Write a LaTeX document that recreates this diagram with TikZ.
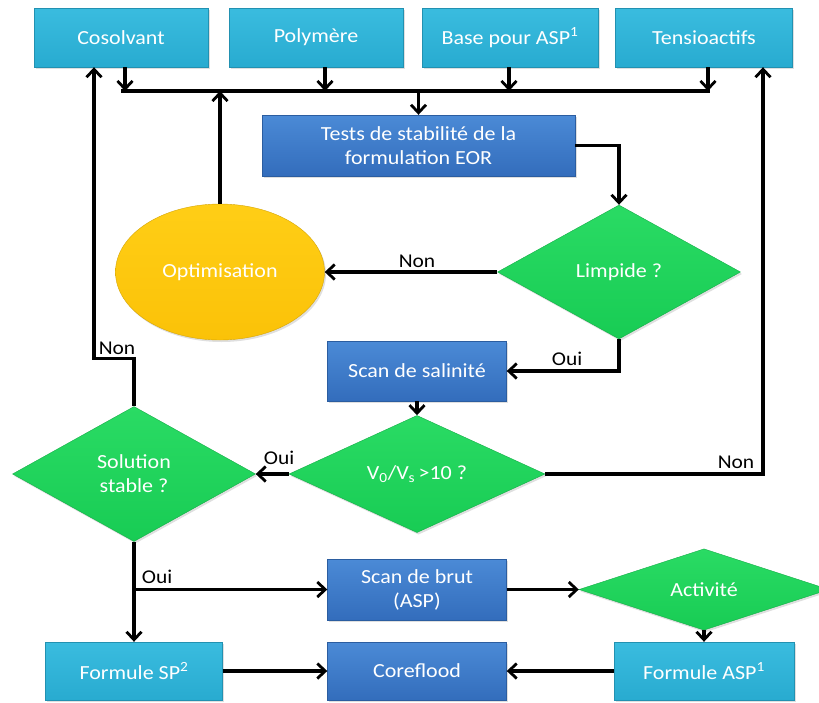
\documentclass[tikz,border=0pt]{standalone}
\usepackage{fontspec}
\setmainfont[FakeStretch=1.1]{Carlito}
\usetikzlibrary{shapes.geometric,arrows.meta,shadows}
\definecolor{cyanA}{HTML}{3ABCDF}
\definecolor{cyanB}{HTML}{28ABD0}
\definecolor{blueA}{HTML}{4B8AD6}
\definecolor{blueB}{HTML}{336DBC}
\definecolor{greenA}{HTML}{2ADB64}
\definecolor{greenB}{HTML}{18CC54}
\definecolor{yelA}{HTML}{FFCE16}
\definecolor{yelB}{HTML}{FBC208}
\tikzset{
  base/.style={inner sep=0pt, text=white, font=\fontsize{20}{24}\selectfont, align=center,
    drop shadow={opacity=0.25,shadow xshift=1.5pt,shadow yshift=-2pt}},
  cbox/.style={base, rectangle, top color=cyanA, bottom color=cyanB, draw=cyanB!85!black, line width=0.4pt},
  bbox/.style={base, rectangle, top color=blueA, bottom color=blueB, draw=blueB!85!black, line width=0.4pt},
  dia/.style={base, diamond, top color=greenA, bottom color=greenB, draw=greenB!85!black, line width=0.4pt},
  ell/.style={base, ellipse, top color=yelA, bottom color=yelB, draw=yelB!85!black, line width=0.4pt},
  conn/.style={line width=3.2pt, -{Straight Barb[length=8pt,width=15pt,line width=2.8pt]}},
  plain/.style={line width=3.2pt},
  lbl/.style={font=\fontsize{19.5}{23}\selectfont, text=black, inner sep=0pt},
}
\begin{document}
\begin{tikzpicture}[x=1pt,y=-1pt]
\useasboundingbox (0,0) rectangle (819,702);
% top row
\node[cbox, minimum width=174pt, minimum height=59pt] (cos) at (121,37.5) {Cosolvant};
\node[cbox, minimum width=174pt, minimum height=59pt] (pol) at (316,37.5) {Polymère};
\node[cbox, minimum width=176pt, minimum height=59pt] (bas) at (510,37.5) {Base pour ASP\textsuperscript{1}};
\node[cbox, minimum width=177pt, minimum height=59pt] (ten) at (704,37.5) {Tensioactifs};
% bus
\coordinate (busL) at (121,91);
\coordinate (busR) at (710,91);
\draw[plain] (busL) -- (busR);
\draw[conn] ([xshift=4pt]cos.south) -- ([xshift=4pt]cos.south |- busL);
\draw[conn] ([xshift=9pt]pol.south) -- ([xshift=9pt]pol.south |- busL);
\draw[conn] ([xshift=-1pt]bas.south) -- ([xshift=-1pt]bas.south |- busL);
\draw[conn] ([xshift=4pt]ten.south) -- ([xshift=4pt]ten.south |- busL);
% tests
\node[bbox, minimum width=313pt, minimum height=61pt] (tst) at (418.5,145.5) {Tests de stabilité de la\\formulation EOR};
\draw[conn] (tst.north |- busL) -- (tst.north);
% limpide / optimisation
\node[dia, minimum width=243pt, minimum height=134pt] (lim) at (619,272) {Limpide ?};
\node[ell, minimum width=209pt, minimum height=136pt] (opt) at (220,272) {Optimisation};
\draw[conn] (tst.east) -| (lim.north);
\draw[conn] (lim.west) -- (opt.east);
\draw[conn] (opt.north) -- (opt.north |- busL);
\node[lbl] (l1) at (417,261) {Non};
% scan salinite
\node[bbox, minimum width=179pt, minimum height=60pt] (sal) at (417,371) {Scan de salinité};
\draw[conn] (lim.south) |- (sal.east);
\node[lbl] (l2) at (567,359) {Oui};
% V0/Vs
\node[dia, minimum width=256pt, minimum height=98pt] (vv) at (417,474) {V\textsubscript{0}/V\textsubscript{s}\,>10 ?};
\draw[conn] (sal.south) -- (vv.north);
% solution stable
\node[dia, minimum width=243pt, minimum height=135pt] (sol) at (134,474) {Solution\\stable ?};
\draw[conn] (vv.west) -- (sol.east);
\node[lbl] (l3) at (279,458) {Oui};
\draw[conn] (vv.east) -| ([xshift=59pt]ten.south);
\node[lbl] (l4) at (736,462) {Non};
\draw[conn] (sol.north) -- ++(0,-48) -| ([xshift=-27pt]cos.south);
\node[lbl] (l5) at (117,348) {Non};
% bottom part
\node[bbox, minimum width=179pt, minimum height=61pt] (brt) at (417,589.5) {Scan de brut\\(ASP)};
\node[dia, minimum width=250pt, minimum height=72pt] (act) at (704,589.5) {Activité};
\node[cbox, minimum width=177pt, minimum height=58pt] (fsp) at (134,671) {Formule SP\textsuperscript{2}};
\node[bbox, minimum width=179pt, minimum height=58pt] (cor) at (417,671) {Coreflood};
\node[cbox, minimum width=180pt, minimum height=58pt] (fas) at (704,671) {Formule ASP\textsuperscript{1}};
\draw[conn] (sol.south) -- (fsp.north);
\draw[conn] (sol.south |- brt.west) -- (brt.west);
\node[lbl] (l6) at (157,577) {Oui};
\draw[conn] (brt.east) -- (act.west);
\draw[conn] (act.south) -- (fas.north);
\draw[conn] (fsp.east) -- (cor.west);
\draw[conn] (fas.west) -- (cor.east);
\end{tikzpicture}
\end{document}
